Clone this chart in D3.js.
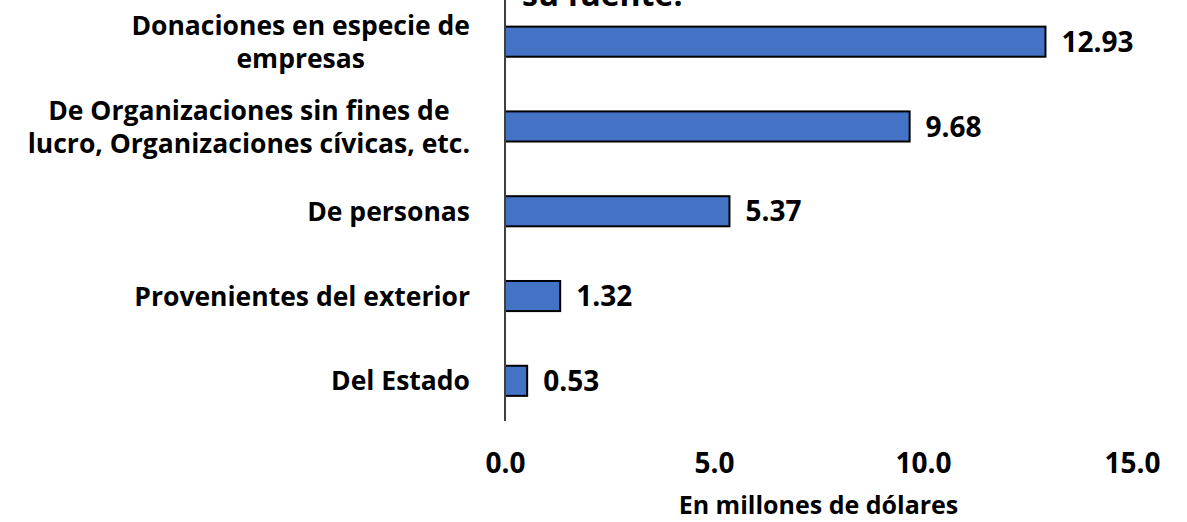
<!DOCTYPE html>
<html>
<head>
<meta charset="utf-8">
<script src="https://cdn.jsdelivr.net/npm/d3@7"></script>
<style>
  body { margin: 0; background: #fff; }
  text { font-family: "Open Sans", Lato, sans-serif; font-weight: bold; fill: #000; }
</style>
</head>
<body>
<svg id="chart" width="1187" height="522"></svg>
<script>
// data
const categories = [
  ["Donaciones en especie de", "empresas"],
  ["De Organizaciones sin fines de", "lucro, Organizaciones cívicas, etc."],
  ["De personas"],
  ["Provenientes del exterior"],
  ["Del Estado"]
];
const values = [12.93, 9.68, 5.37, 1.32, 0.53];
const ticks = [0, 5, 10, 15];
const axisTitle = "En millones de dólares";
const titleTail = "su fuente.";

const svg = d3.select("#chart");
const margin = { left: 505, top: 0, right: 55, bottom: 101 };
const width = 1187 - margin.left - margin.right;

const x = d3.scaleLinear().domain([0, 15]).range([margin.left, margin.left + width]);
const y = d3.scaleBand()
    .domain(d3.range(values.length))
    .range([-0.5, 423])
    .paddingInner(0.645)
    .paddingOuter(0.32);

// title, mostly cut off above the picture
svg.append("text")
    .attr("x", 522)
    .attr("y", 6)
    .style("font-size", "32px")
    .text(titleTail);

// bars
svg.append("g")
    .selectAll("rect")
    .data(values)
    .join("rect")
    .attr("x", x(0))
    .attr("y", (d, i) => y(i))
    .attr("width", d => x(d) - x(0))
    .attr("height", y.bandwidth())
    .attr("fill", "#4472C4")
    .attr("stroke", "#000")
    .attr("stroke-width", 2);

// value labels
svg.append("g")
    .selectAll("text")
    .data(values)
    .join("text")
    .attr("x", d => x(d) + 16)
    .attr("y", (d, i) => y(i) + y.bandwidth() / 2)
    .attr("dy", "0.36em")
    .style("font-size", "28px")
    .text(d => d.toFixed(2));

// vertical axis line
svg.append("line")
    .attr("x1", x(0)).attr("x2", x(0))
    .attr("y1", 0).attr("y2", 421)
    .attr("stroke", "#404040")
    .attr("stroke-width", 2);

// category labels, multi-line blocks centred on themselves, right edge at 470
const labelRight = 470;
const lineH = 33;
const labels = svg.append("g")
    .selectAll("text")
    .data(categories)
    .join("text")
    .style("font-size", "26.5px")
    .attr("text-anchor", "middle");

labels.each(function (lines, i) {
    const t = d3.select(this);
    const cy = y(i) + y.bandwidth() / 2;
    const top = cy - (lines.length - 1) * lineH / 2;
    t.selectAll("tspan")
        .data(lines)
        .join("tspan")
        .attr("y", (d, j) => top + j * lineH)
        .attr("dy", "0.36em")
        .text(d => d);
    let maxW = 0;
    t.selectAll("tspan").each(function () {
        maxW = Math.max(maxW, this.getComputedTextLength());
    });
    t.selectAll("tspan").attr("x", labelRight - maxW / 2);
});

// x axis: labels only
const xAxis = d3.axisBottom(x)
    .tickValues(ticks)
    .tickSize(0)
    .tickPadding(0)
    .tickFormat(d3.format(".1f"));

const gx = svg.append("g")
    .attr("transform", "translate(0,473)")
    .call(xAxis);
gx.select(".domain").remove();
gx.selectAll("text")
    .attr("dy", null)
    .style("font-size", "28px")
    .style("font-family", "'Open Sans', Lato, sans-serif")
    .attr("fill", "#000");

// axis title
svg.append("text")
    .attr("x", x(7.5))
    .attr("y", 514)
    .attr("text-anchor", "middle")
    .style("font-size", "25px")
    .text(axisTitle);
</script>
</body>
</html>
